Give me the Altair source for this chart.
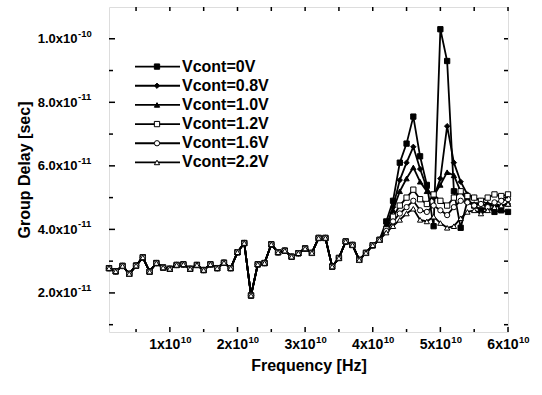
import altair as alt
import pandas as pd

# ---- data (delay values in units of 1e-11 s, frequency in GHz) ----
freq_ghz = list(range(1, 61))
series_names = ["Vcont=0V", "Vcont=0.8V", "Vcont=1.0V", "Vcont=1.2V", "Vcont=1.6V", "Vcont=2.2V"]

# common part of all curves, 1..41 GHz
baseline = [2.78, 2.68, 2.85, 2.6, 2.86, 3.12, 2.67, 2.94, 2.8, 2.76,
            2.88, 2.9, 2.76, 2.88, 2.72, 2.9, 2.78, 2.95, 2.78, 3.28,
            3.57, 1.92, 2.9, 2.94, 3.53, 3.28, 3.33, 3.14, 3.25, 3.4,
            3.26, 3.73, 3.73, 2.83, 3.1, 3.62, 3.51, 3.04, 3.26, 3.5, 3.67]

# 42..60 GHz, per series
tail_0v = [4.25, 4.9, 6.1, 6.7, 7.55, 6.3, 5.4, 4.1, 10.3, 9.3, 5.2, 4.05, 4.9, 4.75, 4.6, 4.7, 4.55, 4.6, 4.55]
tail_08v = [4.1, 4.7, 5.55, 6.1, 6.6, 5.9, 5.3, 5.0, 5.6, 7.25, 6.1, 5.5, 5.1, 5.0, 4.9, 4.8, 4.8, 4.7, 4.8]
tail_10v = [4.05, 4.6, 5.2, 5.6, 5.95, 5.5, 5.2, 5.05, 5.4, 5.8, 5.7, 5.2, 4.9, 4.8, 4.85, 4.7, 4.8, 4.75, 4.8]
tail_12v = [4.0, 4.4, 4.75, 5.0, 5.25, 4.95, 4.8, 5.1, 4.9, 4.75, 5.0, 5.2, 5.05, 5.0, 4.9, 5.0, 5.1, 5.05, 5.1]
tail_16v = [3.95, 4.25, 4.5, 4.7, 4.9, 4.6, 4.55, 4.75, 4.6, 4.45, 4.7, 4.9, 4.85, 4.75, 4.8, 4.7, 4.85, 4.9, 4.95]
tail_22v = [3.9, 4.1, 4.3, 4.5, 4.65, 4.3, 4.25, 4.4, 4.2, 4.05, 4.1, 4.35, 4.55, 4.6, 4.5, 4.6, 4.7, 4.75, 4.8]
tails = [tail_0v, tail_08v, tail_10v, tail_12v, tail_16v, tail_22v]

marker_shapes = ["square", "diamond", "triangle-up", "square", "circle", "triangle-up"]
marker_fills = ["black", "black", "black", "white", "white", "white"]

x_major = [1e10, 2e10, 3e10, 4e10, 5e10, 6e10]
x_exponents = ["10", "10", "10", "10", "10", "10"]
x_minor = [5e9, 1.5e10, 2.5e10, 3.5e10, 4.5e10, 5.5e10]
y_major = [2e-11, 4e-11, 6e-11, 8e-11, 1e-10]
y_exponents = ["-11", "-11", "-11", "-11", "-10"]
y_minor = [1e-11, 3e-11, 5e-11, 7e-11, 9e-11]

rows = []
for name, tail in zip(series_names, tails):
    for f, v in zip(freq_ghz, baseline + tail):
        rows.append({"series": name, "freq": f * 1e9, "delay": v * 1e-11})
df = pd.DataFrame(rows)

W, H = 399, 325
FONT = "Liberation Sans"

xscale = alt.Scale(domain=[1e9, 6e10], nice=False, zero=False)
yscale = alt.Scale(domain=[0.77e-11, 1.1e-10], nice=False, zero=False)
shape_scale = alt.Scale(domain=series_names, range=marker_shapes)
fill_scale = alt.Scale(domain=series_names, range=marker_fills)

x_axis = alt.Axis(values=x_major,
                  labelExpr="format(datum.value/1e10,'d') + 'x10'",
                  ticks=False, domain=False, grid=False, labelFlush=False, labelOverlap=False,
                  labelAlign="right", labelOffset=10,
                  labelFont=FONT, labelFontWeight="bold", labelFontSize=14, labelColor="black",
                  labelPadding=5, title="Frequency [Hz]", titleFont=FONT, titleFontSize=16,
                  titleFontWeight="bold", titleColor="black", titlePadding=6)
y_axis = alt.Axis(values=y_major,
                  labelExpr="datum.value > 9e-11 ? '1.0x10' : format(datum.value*1e11, '.1f') + 'x10'",
                  ticks=False, domain=False, grid=False, labelFlush=False, labelOverlap=False,
                  labelFont=FONT, labelFontWeight="bold", labelFontSize=13, labelColor="black",
                  labelPadding=32, title="Group Delay [sec]", titleFont=FONT, titleFontSize=16,
                  titleFontWeight="bold", titleColor="black", titlePadding=5)

X = lambda f: alt.X(f, scale=xscale, axis=x_axis)
Y = lambda f: alt.Y(f, scale=yscale, axis=y_axis)

lines = alt.Chart(df).mark_line(color="black", strokeWidth=1.8).encode(
    x=X("freq:Q"), y=Y("delay:Q"), detail="series:N",
)
points = alt.Chart(df).mark_point(filled=True, opacity=1, stroke="black", strokeWidth=1, size=28).encode(
    x=X("freq:Q"), y=Y("delay:Q"),
    shape=alt.Shape("series:N", scale=shape_scale, legend=None),
    fill=alt.Fill("series:N", scale=fill_scale, legend=None),
)

def xticks(vals, y1, y2):
    return alt.Chart(pd.DataFrame({"freq": vals})).mark_rule(color="black", strokeWidth=1.5).encode(
        x=X("freq:Q"), y=alt.value(y1), y2=alt.value(y2))

def yticks(vals, x1, x2):
    return alt.Chart(pd.DataFrame({"delay": vals})).mark_rule(color="black", strokeWidth=1.5).encode(
        y=Y("delay:Q"), x=alt.value(x1), x2=alt.value(x2))

tick_layers = [
    xticks(x_major, H, H - 5), xticks(x_minor, H, H - 3),
    xticks(x_major + x_minor, 0, 4),
    yticks(y_major, 0, 6), yticks(y_minor, 0, 4),
    yticks(y_major + y_minor, W, W - 4),
]

# exponents of the tick labels, drawn as small raised text
x_exp = alt.Chart(pd.DataFrame({"freq": x_major, "exp": x_exponents})).mark_text(
    align="left", baseline="middle", font=FONT, fontWeight="bold", fontSize=9.5, dx=11, color="black"
).encode(x=X("freq:Q"), y=alt.value(H + 8), text="exp:N")
y_exp = alt.Chart(pd.DataFrame({"delay": y_major, "exp": y_exponents})).mark_text(
    align="left", baseline="middle", font=FONT, fontWeight="bold", fontSize=9.5, dy=-5, color="black"
).encode(y=Y("delay:Q"), x=alt.value(-31), text="exp:N")

main = alt.layer(lines, points, *tick_layers, x_exp, y_exp)

# legend drawn inside the plot
leg = alt.Chart(pd.DataFrame({"series": series_names})).encode(
    y=alt.Y("series:N", scale=alt.Scale(domain=series_names, range=[50, 165], padding=0), axis=None)
)
leg_rule = leg.mark_rule(color="black", strokeWidth=1.8).encode(x=alt.value(26), x2=alt.value(71))
leg_pt = leg.mark_point(filled=True, opacity=1, stroke="black", strokeWidth=1, size=28).encode(
    x=alt.value(48),
    shape=alt.Shape("series:N", scale=shape_scale, legend=None),
    fill=alt.Fill("series:N", scale=fill_scale, legend=None),
)
leg_txt = leg.mark_text(align="left", baseline="middle", font=FONT, fontWeight="bold",
                        fontSize=16, color="black").encode(x=alt.value(73), text="series:N")
legend = alt.layer(leg_rule, leg_pt, leg_txt)

chart = alt.layer(main, legend).resolve_scale(y="independent").properties(
    width=W, height=H,
    autosize=alt.AutoSizeParams(type="none"),
    padding={"left": 109, "top": 7, "right": 34, "bottom": 63},
).configure_view(stroke="black", strokeWidth=2).configure(background="white")

chart.save("out.html", embed_options={"renderer": "svg", "actions": False})
